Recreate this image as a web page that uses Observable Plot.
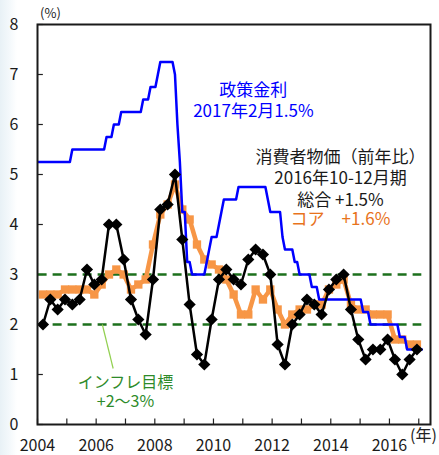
<!DOCTYPE html>
<html>
<head>
<meta charset="utf-8">
<script src="https://cdn.jsdelivr.net/npm/d3@7"></script>
<script src="https://cdn.jsdelivr.net/npm/@observablehq/plot@0.6"></script>
<style>
  html, body { margin: 0; padding: 0; }
  body {
    width: 439px; height: 455px; overflow: hidden;
    background: linear-gradient(to right, #e8f1f6 0px, #f3f8fb 9px, #ffffff 17px);
  }
</style>
</head>
<body>
<div id="chart"></div>
<script>
// ---- Data ----
const firstYear = 2004;

// CPI headline, y/y %, quarterly 2004Q1 .. 2016Q4
const cpiHeadline = [
  2.0, 2.5, 2.3, 2.5,   // 2004
  2.4, 2.5, 3.1, 2.8,   // 2005
  2.9, 4.0, 4.0, 3.3,   // 2006
  2.5, 2.1, 1.8, 2.9,   // 2007
  4.3, 4.4, 5.0, 3.7,   // 2008
  2.4, 1.4, 1.2, 2.1,   // 2009
  2.9, 3.1, 2.9, 2.8,   // 2010
  3.3, 3.5, 3.4, 3.0,   // 2011
  1.6, 1.2, 2.0, 2.2,   // 2012
  2.5, 2.4, 2.2, 2.7,   // 2013
  2.9, 3.0, 2.3, 1.7,   // 2014
  1.3, 1.5, 1.5, 1.7,   // 2015
  1.3, 1.0, 1.3, 1.5    // 2016
];

// CPI core, y/y %, quarterly 2004Q1 .. 2016Q4
const cpiCore = [
  2.6, 2.6, 2.6, 2.7,   // 2004
  2.7, 2.7, 2.7, 2.6,   // 2005
  2.8, 3.0, 3.1, 3.0,   // 2006
  2.7, 2.8, 2.9, 3.6,   // 2007
  4.2, 4.4, 4.8, 4.3,   // 2008
  4.1, 3.6, 3.3, 3.2,   // 2009
  3.1, 2.9, 2.6, 2.2,   // 2010
  2.2, 2.7, 2.5, 2.7,   // 2011
  2.3, 2.0, 2.2, 2.3,   // 2012
  2.3, 2.4, 2.4, 2.7,   // 2013
  2.8, 2.9, 2.4, 2.3,   // 2014
  2.3, 2.2, 2.2, 2.2,   // 2015
  1.7, 1.7, 1.6, 1.6    // 2016
];

// Policy rate, %, monthly Jan 2004 .. Feb 2017
const policyRate = [
  5.25,5.25,5.25,5.25,5.25,5.25,5.25,5.25,5.25,5.25,5.25,5.25, // 2004
  5.25,5.25,5.5,5.5,5.5,5.5,5.5,5.5,5.5,5.5,5.5,5.5,           // 2005
  5.5,5.5,5.5,5.5,5.75,5.75,5.75,6,6,6,6.25,6.25,              // 2006
  6.25,6.25,6.25,6.25,6.25,6.25,6.25,6.5,6.5,6.5,6.75,6.75,    // 2007
  6.75,7,7.25,7.25,7.25,7.25,7.25,7.25,7,6,5.25,4.25,          // 2008
  4.25,3.25,3.25,3,3,3,3,3,3,3.25,3.5,3.75,                    // 2009
  3.75,3.75,4,4.25,4.5,4.5,4.5,4.5,4.5,4.5,4.75,4.75,          // 2010
  4.75,4.75,4.75,4.75,4.75,4.75,4.75,4.75,4.75,4.75,4.5,4.25,  // 2011
  4.25,4.25,4.25,4.25,3.75,3.5,3.5,3.5,3.5,3.25,3.25,3,        // 2012
  3,3,3,3,2.75,2.75,2.75,2.5,2.5,2.5,2.5,2.5,                  // 2013
  2.5,2.5,2.5,2.5,2.5,2.5,2.5,2.5,2.5,2.5,2.5,2.5,             // 2014
  2.5,2.25,2.25,2.25,2,2,2,2,2,2,2,2,                          // 2015
  2,2,2,2,1.75,1.75,1.75,1.5,1.5,1.5,1.5,1.5,                  // 2016
  1.5,1.5                                                      // 2017
];

const inflationTarget = [2, 3];
const yTicks = [0, 1, 2, 3, 4, 5, 6, 7, 8];
const xTickYears = [2004,2005,2006,2007,2008,2009,2010,2011,2012,2013,2014,2015,2016,2017];
const xLabelYears = [2004, 2006, 2008, 2010, 2012, 2014, 2016];

// ---- Build tables (time = fractional year of observation month) ----
const monthTime = m => firstYear + (m + 0.25) / 12;
const headline = cpiHeadline.map((v, i) => ({t: monthTime(3 * i + 2), v}));
const core = cpiCore.map((v, i) => ({t: monthTime(3 * i + 2), v}));
const policy = policyRate.map((v, i) => ({t: monthTime(i), v}));
const tStart = policy[0].t, tEnd = policy[policy.length - 1].t;

const font = "'Noto Sans CJK JP', 'Noto Sans', sans-serif";
const BLUE = "#0000ff", ORANGE = "#f79646", ORANGE_TXT = "#e8731c", GREEN = "#1d701d", GREEN_TXT = "#2e8b2a";

const chart = Plot.plot({
  width: 439,
  height: 455,
  marginLeft: 37,
  marginRight: 9,
  marginTop: 24,
  marginBottom: 31,
  style: {background: "transparent", fontFamily: font, fontSize: "16px", color: "#1a1a1a", overflow: "visible"},
  x: {domain: [2004, 2017.4]},
  y: {domain: [0, 8]},
  marks: [
    Plot.axisX({ticks: xLabelYears, tickFormat: d => String(d), tickSize: 0, tickPadding: 15, fontSize: 16, label: null}),
    Plot.axisY({ticks: yTicks, tickSize: 0, tickPadding: 19, fontSize: 16, label: null}),
    // inward ticks
    Plot.ruleX(xTickYears, {x: d => d, y1: 0, y2: 0.11, stroke: "#222", strokeWidth: 1.2}),
    Plot.ruleY(yTicks, {y: d => d, x1: 2004, x2: 2004.2, stroke: "#222", strokeWidth: 1.2}),
    // inflation target band lines
    Plot.ruleY(inflationTarget, {y: d => d, x1: tStart, x2: tEnd, stroke: GREEN, strokeWidth: 2.6, strokeDasharray: "9,6"}),
    // leader line for target label
    Plot.link([0], {x1: 2006.21, y1: 2.0, x2: 2006.58, y2: 1.12, stroke: "#92d050", strokeWidth: 1.2}),
    // core CPI
    Plot.line(core, {x: "t", y: "v", stroke: ORANGE, strokeWidth: 4.5}),
    Plot.dot(core, {x: "t", y: "v", symbol: "square", r: 4.7, fill: ORANGE, stroke: "none"}),
    // policy rate
    Plot.line(policy, {x: "t", y: "v", stroke: BLUE, strokeWidth: 2.5}),
    // headline CPI
    Plot.line(headline, {x: "t", y: "v", stroke: "#000", strokeWidth: 2.5}),
    Plot.dot(headline, {x: "t", y: "v", symbol: "diamond2", r: 5.5, fill: "#000", stroke: "none"}),
    // frame
    Plot.frame({stroke: "#1a1a1a", strokeWidth: 2}),
    // annotations
    Plot.text(["(%)"], {text: d => d, x: 2004.44, y: 8.21, fontSize: 13, fill: "#222"}),
    Plot.text(["(年)"], {text: d => d, x: 2017.16, y: -0.22, fontSize: 16, fill: "#222"}),
    Plot.text(["政策金利\n2017年2月1.5%"], {text: d => d, x: 2011.36, y: 6.49, fontSize: 17, lineHeight: 1.24, fill: BLUE}),
    Plot.text(["消費者物価（前年比）\n2016年10-12月期\n総合 +1.5%"], {text: d => d, x: 2014.33, y: 4.94, fontSize: 17, lineHeight: 1.26, fill: "#1a1a1a"}),
    Plot.text(["コア　+1.6%"], {text: d => d, x: 2014.33, y: 4.1, fontSize: 17, fill: ORANGE_TXT}),
    Plot.text(["インフレ目標\n+2〜3%"], {text: d => d, x: 2007.0, y: 0.67, fontSize: 16, lineHeight: 1.19, fill: GREEN_TXT})
  ]
});
document.getElementById("chart").appendChild(chart);
</script>
</body>
</html>
